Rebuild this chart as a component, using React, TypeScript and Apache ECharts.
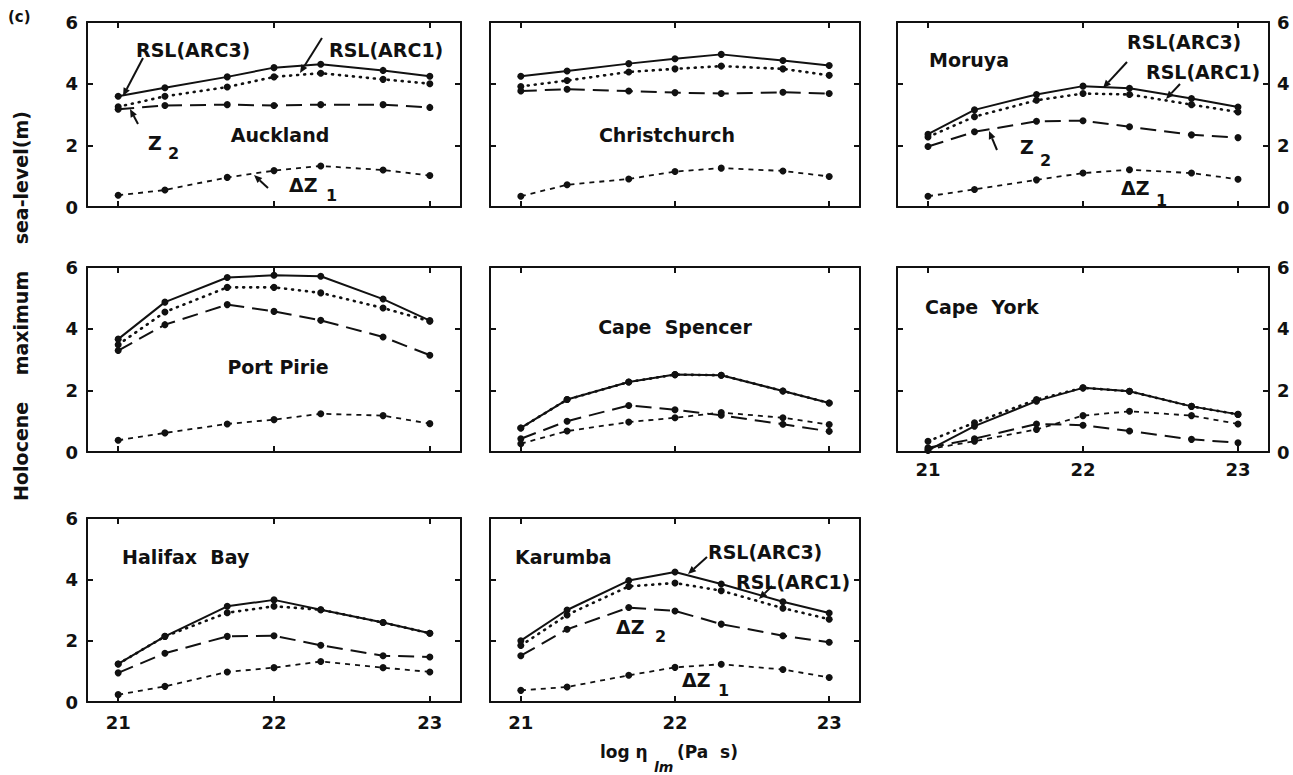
import { useEffect, useRef } from "react";
import * as echarts from "echarts";

// ---------- data ----------
const xValues = [21, 21.3, 21.7, 22, 22.3, 22.7, 23];
const xTickValues = [21, 22, 23];
const siteNames = [
  "Auckland",
  "Christchurch",
  "Moruya",
  "Port Pirie",
  "Cape Spencer",
  "Cape York",
  "Halifax Bay",
  "Karumba",
];

// RSL(ARC3) solid, RSL(ARC1) dotted, Z2 long dash, ΔZ1 short dash
const aucklandArc3 = [3.59, 3.87, 4.22, 4.52, 4.63, 4.43, 4.24];
const aucklandArc1 = [3.25, 3.59, 3.89, 4.22, 4.34, 4.14, 4.0];
const aucklandZ2 = [3.17, 3.29, 3.32, 3.29, 3.32, 3.32, 3.23];
const aucklandDZ1 = [0.38, 0.55, 0.96, 1.18, 1.33, 1.2, 1.02];

const christchurchArc3 = [4.24, 4.41, 4.65, 4.81, 4.95, 4.75, 4.59];
const christchurchArc1 = [3.91, 4.1, 4.38, 4.48, 4.57, 4.48, 4.27];
const christchurchZ2 = [3.76, 3.82, 3.76, 3.71, 3.68, 3.72, 3.68];
const christchurchDZ1 = [0.35, 0.72, 0.91, 1.15, 1.26, 1.17, 0.99];

const moruyaArc3 = [2.36, 3.15, 3.65, 3.92, 3.85, 3.52, 3.24];
const moruyaArc1 = [2.27, 2.93, 3.46, 3.68, 3.65, 3.32, 3.08];
const moruyaZ2 = [1.96, 2.44, 2.78, 2.8, 2.6, 2.34, 2.25];
const moruyaDZ1 = [0.35, 0.57, 0.88, 1.1, 1.21, 1.1, 0.9];

const portPirieArc3 = [3.66, 4.86, 5.66, 5.73, 5.7, 4.96, 4.26];
const portPirieArc1 = [3.48, 4.54, 5.34, 5.34, 5.16, 4.67, 4.24];
const portPirieZ2 = [3.29, 4.13, 4.78, 4.56, 4.27, 3.73, 3.14];
const portPirieDZ1 = [0.38, 0.62, 0.91, 1.05, 1.24, 1.18, 0.92];

const capeSpencerArc3 = [0.78, 1.7, 2.27, 2.51, 2.49, 1.98, 1.59];
const capeSpencerArc1 = [0.78, 1.7, 2.27, 2.51, 2.49, 1.98, 1.59];
const capeSpencerZ2 = [0.43, 1.0, 1.51, 1.37, 1.19, 0.9, 0.67];
const capeSpencerDZ1 = [0.27, 0.68, 0.97, 1.11, 1.28, 1.11, 0.89];

const capeYorkArc3 = [0.05, 0.84, 1.65, 2.08, 1.97, 1.48, 1.22];
const capeYorkArc1 = [0.35, 0.95, 1.7, 2.08, 1.97, 1.48, 1.22];
const capeYorkZ2 = [0.14, 0.43, 0.91, 0.87, 0.68, 0.41, 0.3];
const capeYorkDZ1 = [0.09, 0.35, 0.73, 1.18, 1.32, 1.18, 0.91];

const halifaxArc3 = [1.24, 2.14, 3.12, 3.33, 3.01, 2.59, 2.24];
const halifaxArc1 = [1.24, 2.14, 2.91, 3.12, 3.01, 2.59, 2.24];
const halifaxZ2 = [0.95, 1.59, 2.14, 2.16, 1.85, 1.51, 1.47];
const halifaxDZ1 = [0.24, 0.51, 0.98, 1.12, 1.32, 1.12, 0.98];

const karumbaArc3 = [2.0, 3.0, 3.96, 4.24, 3.85, 3.27, 2.9];
const karumbaArc1 = [1.84, 2.84, 3.77, 3.88, 3.63, 3.06, 2.7];
const karumbaZ2 = [1.51, 2.37, 3.08, 2.97, 2.54, 2.16, 1.95];
const karumbaDZ1 = [0.38, 0.49, 0.87, 1.13, 1.23, 1.06, 0.8];

const panelData = [
  [aucklandArc3, aucklandArc1, aucklandZ2, aucklandDZ1],
  [christchurchArc3, christchurchArc1, christchurchZ2, christchurchDZ1],
  [moruyaArc3, moruyaArc1, moruyaZ2, moruyaDZ1],
  [portPirieArc3, portPirieArc1, portPirieZ2, portPirieDZ1],
  [capeSpencerArc3, capeSpencerArc1, capeSpencerZ2, capeSpencerDZ1],
  [capeYorkArc3, capeYorkArc1, capeYorkZ2, capeYorkDZ1],
  [halifaxArc3, halifaxArc1, halifaxZ2, halifaxDZ1],
  [karumbaArc3, karumbaArc1, karumbaZ2, karumbaDZ1],
];
const seriesNames = ["RSL(ARC3)", "RSL(ARC1)", "Z2", "ΔZ1"];

// ---------- layout / style ----------
const INK = "#111";
const FONT = "DejaVu Sans";
const colLeft = [87, 490, 897];
const colWidth = [374, 370, 372];
const rowTop = [22, 267, 518];
const rowHeight = [185, 185, 184];

const leftLabelPanels = [0, 3, 6];
const rightLabelPanels = [2, 5];
const bottomLabelPanels = [5, 6, 7];

const lineStyles = [
  { type: "solid", width: 2 },
  { type: [1, 6], width: 2.6, cap: "round" },
  { type: [16, 8], width: 2 },
  { type: [5, 5], width: 1.8 },
];
const drawOrder = [1, 2, 3, 0];

function arrow(x1: number, y1: number, x2: number, y2: number) {
  const dx = x2 - x1;
  const dy = y2 - y1;
  const len = Math.sqrt(dx * dx + dy * dy);
  const ux = dx / len;
  const uy = dy / len;
  const bx = x2 - ux * 8;
  const by = y2 - uy * 8;
  const nx = -uy * 3.5;
  const ny = ux * 3.5;
  return [
    {
      type: "line",
      shape: { x1, y1, x2: bx, y2: by },
      style: { stroke: INK, lineWidth: 2 },
    },
    {
      type: "polygon",
      shape: {
        points: [
          [x2, y2],
          [bx + nx, by + ny],
          [bx - nx, by - ny],
        ],
      },
      style: { fill: INK },
    },
  ];
}

function txt(
  text: string,
  x: number,
  y: number,
  size = 19,
  align = "left",
  extra: any = {}
) {
  return {
    type: "text",
    x,
    y,
    style: {
      text,
      fill: INK,
      font: `bold ${size}px "${FONT}"`,
      align,
      verticalAlign: "middle",
      ...extra,
    },
  };
}

function buildOption() {
  const grids: any[] = [];
  const xAxes: any[] = [];
  const yAxes: any[] = [];
  const series: any[] = [];

  const axisLine = { show: true, onZero: false, lineStyle: { color: INK, width: 2 } };
  const labelStyle = { color: INK, fontFamily: FONT, fontWeight: "bold", fontSize: 18 };

  for (let p = 0; p < 8; p++) {
    const r = Math.floor(p / 3);
    const c = p % 3;
    grids.push({
      left: colLeft[c],
      top: rowTop[r],
      width: colWidth[c],
      height: rowHeight[r],
      containLabel: false,
    });
    for (const pos of ["bottom", "top"]) {
      xAxes.push({
        gridIndex: p,
        type: "value",
        position: pos,
        min: 20.8,
        max: 23.2,
        axisLine,
        axisTick: {
          show: true,
          inside: true,
          length: 6,
          customValues: xTickValues,
          lineStyle: { color: INK, width: 2 },
        },
        axisLabel: {
          show: pos === "bottom" && bottomLabelPanels.includes(p),
          customValues: xTickValues,
          margin: p === 5 ? 8 : 11,
          ...labelStyle,
        },
        splitLine: { show: false },
      });
    }
    for (const pos of ["left", "right"]) {
      const show =
        (pos === "left" && leftLabelPanels.includes(p)) ||
        (pos === "right" && rightLabelPanels.includes(p));
      yAxes.push({
        gridIndex: p,
        type: "value",
        position: pos,
        min: 0,
        max: 6,
        interval: 2,
        axisLine,
        axisTick: { show: true, inside: true, length: 6, lineStyle: { color: INK, width: 2 } },
        axisLabel: { show, margin: pos === "left" ? 9 : 8, ...labelStyle },
        splitLine: { show: false },
      });
    }
    const sets = panelData[p];
    for (const k of drawOrder) {
      const vals = sets[k];
      series.push({
        name: `${siteNames[p]} ${seriesNames[k]}`,
        type: "line",
        xAxisIndex: p * 2,
        yAxisIndex: p * 2,
        data: xValues.map((x, i) => [x, vals[i]]),
        symbol: "circle",
        symbolSize: 7,
        showSymbol: true,
        itemStyle: { color: INK },
        lineStyle: { color: INK, ...lineStyles[k] },
        z: k === 0 ? 5 : 3,
      });
    }
  }

  const graphics: any[] = [
    txt("(c)", 8, 17, 15),
    {
      type: "text",
      x: 21,
      y: 306,
      rotation: Math.PI / 2,
      style: {
        text: "Holocene    maximum    sea-level(m)",
        fill: INK,
        font: `bold 19px "${FONT}"`,
        align: "center",
        verticalAlign: "middle",
      },
    },
    txt("log η", 600, 752, 17),
    {
      type: "text",
      x: 654,
      y: 767,
      style: {
        text: "lm",
        fill: INK,
        font: `italic bold 14px "${FONT}"`,
        align: "left",
        verticalAlign: "middle",
      },
    },
    txt("(Pa  s)", 677, 752, 17),

    // Auckland
    txt("RSL(ARC3)", 136, 50),
    txt("RSL(ARC1)", 329, 50),
    ...arrow(143, 58, 123, 96),
    ...arrow(322, 38, 300, 73),
    txt("Z", 148, 143),
    txt("2", 168, 153, 16),
    ...arrow(138, 124, 130, 109),
    txt("Auckland", 280, 135, 19, "center"),
    txt("ΔZ", 289, 185),
    txt("1", 326, 195, 16),
    ...arrow(268, 188, 254, 175),

    // Christchurch
    txt("Christchurch", 667, 135, 19, "center"),

    // Moruya
    txt("Moruya", 929, 60),
    txt("RSL(ARC3)", 1127, 42),
    txt("RSL(ARC1)", 1146, 72),
    ...arrow(1127, 62, 1103, 88),
    ...arrow(1180, 84, 1166, 99),
    txt("Z", 1020, 147),
    txt("2", 1040, 160, 16),
    ...arrow(997, 150, 989, 131),
    txt("ΔZ", 1121, 188),
    txt("1", 1156, 200, 16),

    // Port Pirie
    txt("Port Pirie", 278, 367, 19, "center"),
    // Cape Spencer
    txt("Cape  Spencer", 675, 327, 19, "center"),
    // Cape York
    txt("Cape  York", 925, 307),
    // Halifax Bay
    txt("Halifax  Bay", 122, 557),

    // Karumba
    txt("Karumba", 515, 557),
    txt("RSL(ARC3)", 708, 552),
    txt("RSL(ARC1)", 736, 582),
    ...arrow(707, 557, 688, 574),
    ...arrow(772, 586, 759, 599),
    txt("ΔZ", 616, 627),
    txt("2", 655, 636, 16),
    txt("ΔZ", 682, 680),
    txt("1", 718, 690, 16),
  ];

  return {
    animation: false,
    backgroundColor: "#fff",
    grid: grids,
    xAxis: xAxes,
    yAxis: yAxes,
    series,
    graphic: graphics,
  };
}

export default function App() {
  const ref = useRef<HTMLDivElement>(null);
  useEffect(() => {
    if (!ref.current) return;
    const chart = echarts.init(ref.current, null, { renderer: "svg" });
    chart.setOption(buildOption() as any);
    return () => chart.dispose();
  }, []);
  return (
    <div
      ref={ref}
      style={{ position: "absolute", left: 0, top: 0, width: 1293, height: 775, background: "#fff" }}
    />
  );
}
